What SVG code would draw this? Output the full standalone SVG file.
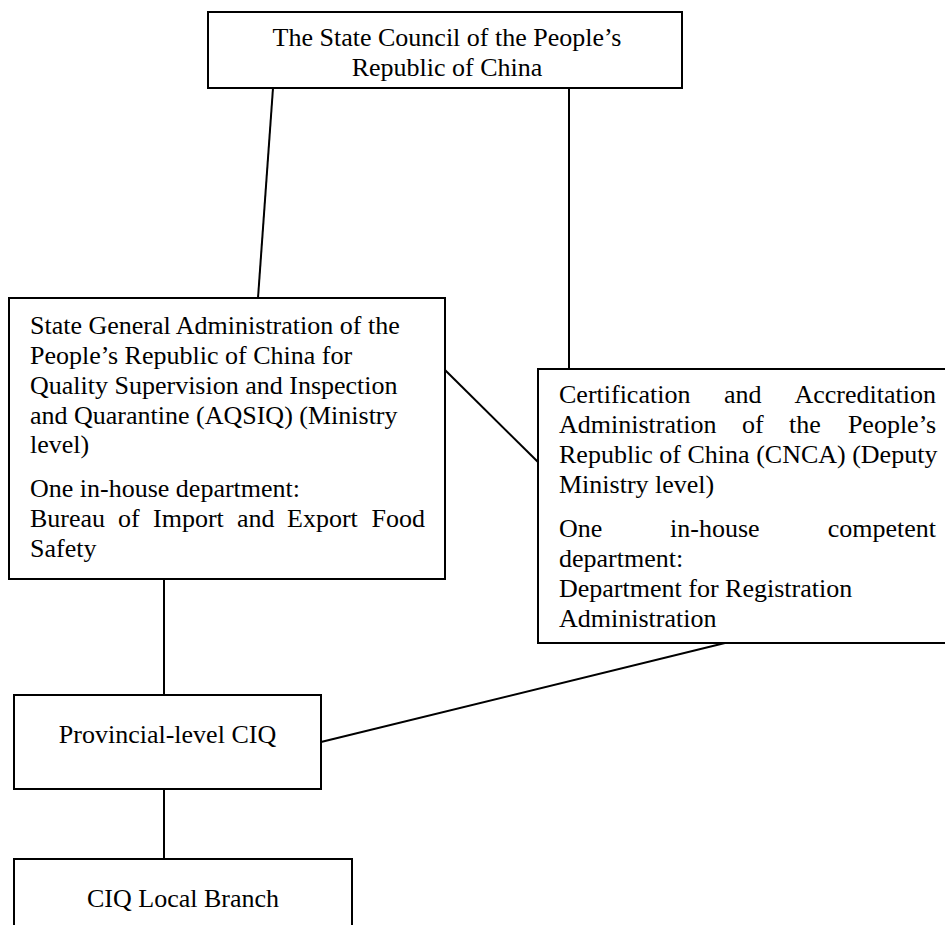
<svg xmlns="http://www.w3.org/2000/svg" width="945" height="925" viewBox="0 0 945 925">
<style>
.box{fill:#fff;stroke:#000;stroke-width:2}
.ln{stroke:#000;stroke-width:2;fill:none}
text{font-family:"Liberation Serif","Times New Roman",serif;font-size:26px;fill:#000}
.c{text-anchor:middle}
.e{text-anchor:end}
</style>
<g id="connectors">
<line class="ln" x1="273" y1="88" x2="258" y2="298"/>
<line class="ln" x1="569" y1="88" x2="569" y2="369"/>
<line class="ln" x1="445" y1="370" x2="538" y2="462"/>
<line class="ln" x1="164" y1="579" x2="164" y2="695"/>
<line class="ln" x1="164" y1="789" x2="164" y2="859"/>
<line class="ln" x1="725" y1="643" x2="321" y2="742"/>
</g>
<g id="state-council">
<rect class="box" x="208" y="12" width="474" height="76"/>
<text class="c" x="447" y="46">The State Council of the People’s</text>
<text class="c" x="447" y="76">Republic of China</text>
</g>
<g id="aqsiq">
<rect class="box" x="9" y="298" width="436" height="281"/>
<text x="30" y="334">State General Administration of the</text>
<text x="30" y="364">People’s Republic of China for</text>
<text x="30" y="394">Quality Supervision and Inspection</text>
<text x="30" y="424">and Quarantine (AQSIQ) (Ministry</text>
<text x="30" y="453">level)</text>
<text x="30" y="497">One in-house department:</text>
<text y="527"><tspan x="30">Bureau</tspan><tspan x="118">of</tspan><tspan x="153">Import</tspan><tspan x="237">and</tspan><tspan x="287">Export</tspan><tspan x="425" class="e">Food</tspan></text>
<text x="30" y="557">Safety</text>
</g>
<g id="cnca">
<rect class="box" x="538" y="369" width="420" height="274"/>
<text y="403"><tspan x="559">Certification</tspan><tspan x="724">and</tspan><tspan x="936" class="e">Accreditation</tspan></text>
<text y="433"><tspan x="559">Administration</tspan><tspan x="742">of</tspan><tspan x="789">the</tspan><tspan x="936" class="e">People’s</tspan></text>
<text x="559" y="463">Republic of China (CNCA) (Deputy</text>
<text x="559" y="493">Ministry level)</text>
<text y="537"><tspan x="559">One</tspan><tspan x="670">in-house</tspan><tspan x="936" class="e">competent</tspan></text>
<text x="559" y="567">department:</text>
<text x="559" y="597">Department for Registration</text>
<text x="559" y="627">Administration</text>
</g>
<g id="provincial-ciq">
<rect class="box" x="14" y="695" width="307" height="94"/>
<text class="c" x="167.5" y="743">Provincial-level CIQ</text>
</g>
<g id="ciq-local-branch">
<rect class="box" x="14" y="859" width="338" height="80"/>
<text class="c" x="183" y="907">CIQ Local Branch</text>
</g>
</svg>
